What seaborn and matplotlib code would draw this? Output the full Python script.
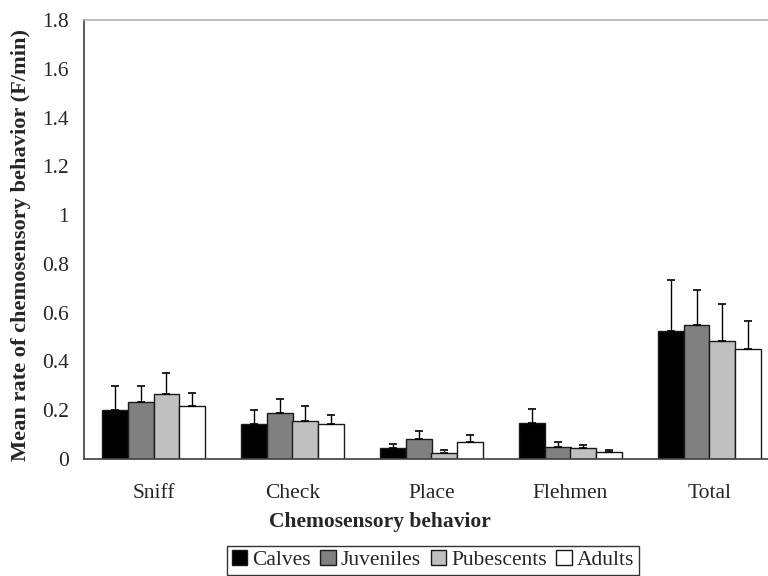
import matplotlib
matplotlib.use("Agg")
import matplotlib.pyplot as plt
import seaborn as sns
import numpy as np
import pandas as pd

behaviors = ["Sniff", "Check", "Place", "Flehmen", "Total"]
groups = ["Calves", "Juveniles", "Pubescents", "Adults"]

# mean rates (F/min) per behavior, one list per age group
calves = [0.20, 0.143, 0.045, 0.146, 0.525]
juveniles = [0.234, 0.189, 0.082, 0.049, 0.548]
pubescents = [0.268, 0.157, 0.026, 0.044, 0.485]
adults = [0.216, 0.143, 0.071, 0.029, 0.451]

# upper error (SE) per behavior
calves_err = [0.10, 0.057, 0.018, 0.060, 0.210]
juveniles_err = [0.066, 0.056, 0.031, 0.019, 0.146]
pubescents_err = [0.086, 0.062, 0.012, 0.012, 0.149]
adults_err = [0.056, 0.036, 0.029, 0.009, 0.114]

y_ticks = [0, 0.2, 0.4, 0.6, 0.8, 1, 1.2, 1.4, 1.6, 1.8]
y_tick_labels = ["0", "0.2", "0.4", "0.6", "0.8", "1", "1.2", "1.4", "1.6", "1.8"]

means = [calves, juveniles, pubescents, adults]
errs = [calves_err, juveniles_err, pubescents_err, adults_err]

df = pd.DataFrame({
    "behavior": np.repeat([behaviors], len(groups), axis=0).ravel(),
    "group": np.repeat(groups, len(behaviors)),
    "rate": np.concatenate(means),
    "err": np.concatenate(errs),
})

sns.set_style("white")
plt.rcParams["font.family"] = ["Liberation Serif", "DejaVu Serif"]
FS = 15.5

fig = plt.figure(figsize=(7.68, 5.76), dpi=100)
ax = fig.add_axes([84 / 768, 1 - 459 / 576, 695 / 768, (459 - 20) / 576])

palette = ["#000000", "#808080", "#c0c0c0", "#ffffff"]
sns.barplot(data=df, x="behavior", y="rate", hue="group", order=behaviors,
            hue_order=groups, palette=palette, width=0.735, errorbar=None,
            edgecolor="#1a1a1a", linewidth=1.0, saturation=1, ax=ax,
            legend=True)

# upward-only error bars placed on each bar
bar_sets = list(ax.containers)
for gi, cont in enumerate(bar_sets):
    xs = [p.get_x() + p.get_width() / 2 for p in cont.patches]
    hs = [p.get_height() for p in cont.patches]
    e = errs[gi]
    ax.errorbar(xs, hs, yerr=[np.zeros(len(e)), e], fmt="none",
                ecolor="#000000", elinewidth=1.0, capsize=2.8, capthick=1.2,
                zorder=1)

ax.set_xlim(-0.5, 4.5)
ax.set_ylim(0, 1.8)
ax.set_yticks(y_ticks)
ax.set_yticklabels(y_tick_labels)
ax.tick_params(axis="y", direction="out", length=5, width=1, color="#404040",
               pad=6, labelsize=FS)
ax.set_xticks(range(len(behaviors)))
ax.set_xticklabels(behaviors)
ax.set_xticks(np.arange(-0.5, 5.0, 1.0), minor=True)
ax.tick_params(axis="x", which="major", length=0, pad=18, labelsize=FS)
ax.tick_params(axis="x", which="minor", direction="out", length=5, width=1,
               color="#404040")
ax.set_xlabel("")
ax.set_ylabel("")

for s in ["left", "bottom"]:
    ax.spines[s].set_color("#404040")
    ax.spines[s].set_linewidth(1.2)
ax.spines["top"].set_color("#b0b0b0")
ax.spines["top"].set_linewidth(1.2)
ax.spines["right"].set_visible(False)

fig.text(21 / 768, 1 - 245 / 576, "Mean rate of chemosensory behavior (F/min)",
         rotation=90, ha="center", va="center", fontsize=16.1, fontweight="bold")
fig.text(380 / 768, 1 - 522 / 576, "Chemosensory behavior",
         ha="center", va="center", fontsize=FS, fontweight="bold")

handles, labels = ax.get_legend_handles_labels()
ax.get_legend().remove()
leg = fig.legend(handles, labels, loc="upper center",
                 bbox_to_anchor=(433 / 768, 1 - 546 / 576), ncol=4,
                 frameon=True, fancybox=False, edgecolor="#000000",
                 fontsize=FS, handlelength=0.7, handleheight=0.7,
                 handletextpad=0.25, columnspacing=0.45, borderpad=0.2,
                 borderaxespad=0)
leg.get_frame().set_linewidth(1.0)

fig.savefig("out.png", dpi=100)
